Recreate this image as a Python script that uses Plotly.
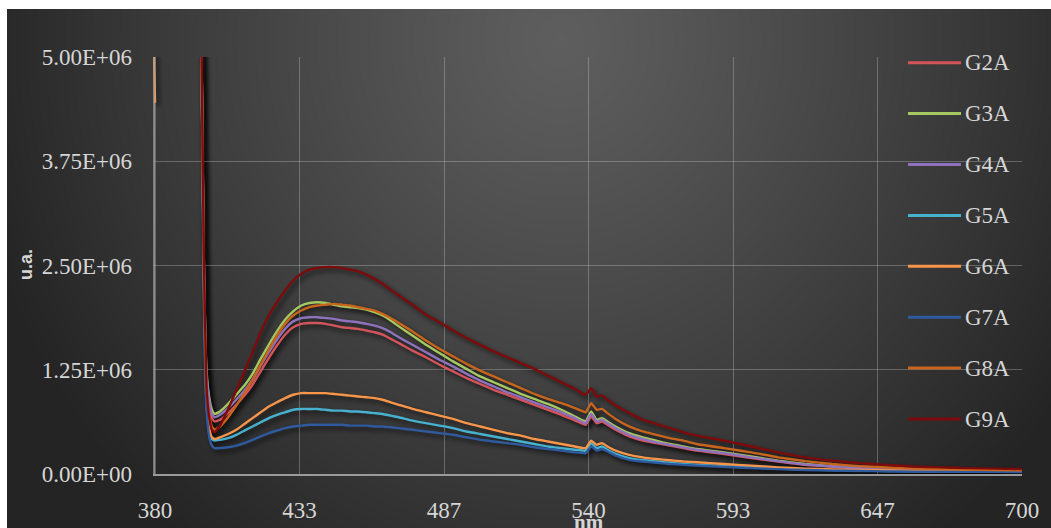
import numpy as np
import plotly.graph_objects as go

# Emission spectra, wavelength in nm
WAVELENGTH_NM = [
    380, 381, 390, 396, 397,
    398, 399, 400, 401, 402,
    404, 407, 410, 413, 416,
    419, 422, 425, 428, 431,
    434, 437, 440, 443, 446,
    449, 452, 455, 458, 461,
    464, 467, 470, 475, 480,
    485, 490, 495, 500, 505,
    510, 515, 520, 525, 530,
    535, 538, 539, 541, 543,
    545, 547, 550, 555, 560,
    565, 570, 575, 580, 590,
    600, 610, 620, 630, 640,
    650, 660, 670, 680, 690,
    700,
]

# Intensities in millions of arbitrary units (u.a.)
G2A = [
    9.0, 9.0, 9.0, 9.0, 5.6,
    2.6, 1.15, 0.83, 0.67, 0.63,
    0.65, 0.73, 0.83, 0.94, 1.07,
    1.23, 1.39, 1.54, 1.67, 1.76,
    1.80, 1.81, 1.81, 1.80, 1.78,
    1.76, 1.75, 1.74, 1.72, 1.70,
    1.67, 1.62, 1.57, 1.48, 1.40,
    1.31, 1.23, 1.15, 1.08, 1.01,
    0.95, 0.89, 0.83, 0.77, 0.71,
    0.64, 0.60, 0.59, 0.69, 0.61,
    0.63, 0.59, 0.53, 0.45, 0.40,
    0.37, 0.34, 0.31, 0.28, 0.24,
    0.19, 0.15, 0.11, 0.087, 0.07,
    0.058, 0.049, 0.043, 0.038, 0.035,
    0.033,
]
G3A = [
    9.0, 9.0, 9.0, 9.0, 5.6,
    2.6, 1.25, 0.92, 0.77, 0.72,
    0.75, 0.84, 0.95, 1.06, 1.20,
    1.38, 1.55, 1.71, 1.85, 1.95,
    2.02, 2.05, 2.06, 2.05, 2.03,
    2.01, 2.00, 1.99, 1.97, 1.94,
    1.90, 1.84, 1.77, 1.66, 1.55,
    1.45, 1.35, 1.26, 1.17, 1.10,
    1.03, 0.96, 0.90, 0.84, 0.77,
    0.69, 0.64, 0.63, 0.75, 0.65,
    0.67, 0.63, 0.57, 0.49, 0.44,
    0.40, 0.36, 0.33, 0.30, 0.26,
    0.21, 0.16, 0.12, 0.095, 0.075,
    0.062, 0.052, 0.045, 0.040, 0.037,
    0.035,
]
G4A = [
    9.0, 9.0, 9.0, 9.0, 5.6,
    2.6, 1.2, 0.88, 0.72, 0.68,
    0.71, 0.79, 0.89, 1.00, 1.13,
    1.30, 1.46, 1.61, 1.74, 1.83,
    1.87, 1.88, 1.88, 1.87, 1.86,
    1.84, 1.83, 1.82, 1.80, 1.78,
    1.75, 1.70, 1.64, 1.55, 1.46,
    1.37, 1.29, 1.20, 1.12, 1.05,
    0.98, 0.92, 0.86, 0.80, 0.74,
    0.67, 0.62, 0.61, 0.72, 0.63,
    0.65, 0.61, 0.55, 0.47, 0.42,
    0.38, 0.35, 0.32, 0.29, 0.25,
    0.20, 0.155, 0.115, 0.09, 0.072,
    0.060, 0.050, 0.044, 0.039, 0.036,
    0.034,
]
G5A = [
    9.0, 9.0, 9.0, 9.0, 5.6,
    2.3, 0.85, 0.52, 0.42, 0.40,
    0.41, 0.43, 0.47, 0.52, 0.57,
    0.62, 0.67, 0.71, 0.74, 0.77,
    0.78, 0.78, 0.78, 0.77, 0.76,
    0.76, 0.75, 0.75, 0.74, 0.73,
    0.72, 0.70, 0.68, 0.64, 0.61,
    0.58, 0.55, 0.51, 0.48, 0.45,
    0.42, 0.39, 0.36, 0.33, 0.31,
    0.29, 0.28, 0.28, 0.37, 0.31,
    0.33, 0.29, 0.24, 0.19, 0.165,
    0.15, 0.135, 0.12, 0.11, 0.095,
    0.08, 0.065, 0.055, 0.046, 0.04,
    0.036, 0.033, 0.031, 0.029, 0.028,
    0.027,
]
G6A = [
    4.45, 9.0, 9.0, 9.0, 5.6,
    2.4, 0.9, 0.55, 0.44, 0.42,
    0.44, 0.48, 0.53, 0.60, 0.67,
    0.74, 0.81, 0.86, 0.91, 0.95,
    0.97, 0.97, 0.97, 0.97, 0.96,
    0.95, 0.94, 0.93, 0.92, 0.91,
    0.89, 0.86, 0.83, 0.78, 0.74,
    0.70, 0.66, 0.61, 0.57, 0.53,
    0.49, 0.46, 0.42, 0.39, 0.36,
    0.33, 0.31, 0.31, 0.40, 0.35,
    0.37, 0.33, 0.28, 0.23, 0.20,
    0.18, 0.165, 0.15, 0.14, 0.12,
    0.10, 0.08, 0.065, 0.055, 0.048,
    0.042, 0.038, 0.035, 0.033, 0.031,
    0.030,
]
G7A = [
    9.0, 9.0, 9.0, 9.0, 5.6,
    2.2, 0.78, 0.45, 0.34, 0.31,
    0.31, 0.32, 0.34, 0.37, 0.41,
    0.45, 0.49, 0.52, 0.55, 0.57,
    0.58, 0.59, 0.59, 0.59, 0.59,
    0.59, 0.58, 0.58, 0.58, 0.57,
    0.57, 0.56, 0.55, 0.53, 0.51,
    0.49, 0.47, 0.44, 0.41, 0.39,
    0.37, 0.35, 0.32, 0.30, 0.28,
    0.26, 0.25, 0.25, 0.33, 0.28,
    0.30, 0.27, 0.22, 0.17, 0.15,
    0.135, 0.12, 0.11, 0.10, 0.085,
    0.07, 0.058, 0.048, 0.041, 0.036,
    0.032, 0.029, 0.027, 0.026, 0.025,
    0.024,
]
G8A = [
    9.0, 9.0, 9.0, 9.0, 5.6,
    2.5, 1.05, 0.72, 0.57, 0.53,
    0.57, 0.68, 0.82, 0.97, 1.13,
    1.31, 1.49, 1.66, 1.80, 1.90,
    1.96, 2.00, 2.02, 2.03, 2.04,
    2.03, 2.02, 2.00, 1.98, 1.96,
    1.92, 1.87, 1.81, 1.71, 1.60,
    1.50, 1.41, 1.32, 1.24, 1.17,
    1.10, 1.03, 0.96, 0.90, 0.85,
    0.79, 0.75, 0.74, 0.85, 0.77,
    0.78, 0.73, 0.66, 0.57, 0.51,
    0.47, 0.43, 0.40, 0.36, 0.31,
    0.26, 0.20, 0.155, 0.12, 0.095,
    0.078, 0.065, 0.058, 0.052, 0.048,
    0.045,
]
G9A = [
    9.0, 9.0, 9.0, 9.0, 5.7,
    2.7, 1.05, 0.68, 0.53, 0.50,
    0.58, 0.78, 1.00, 1.23, 1.46,
    1.70, 1.90, 2.06, 2.20, 2.32,
    2.40, 2.45, 2.47, 2.48, 2.48,
    2.47, 2.45, 2.43, 2.39, 2.34,
    2.28, 2.21, 2.14, 2.03, 1.91,
    1.82, 1.72, 1.63, 1.55, 1.47,
    1.40, 1.33, 1.26, 1.18, 1.10,
    1.02, 0.96, 0.95, 1.03, 0.93,
    0.94, 0.89, 0.82, 0.73, 0.65,
    0.60, 0.55, 0.50, 0.46, 0.40,
    0.33, 0.26, 0.20, 0.16, 0.13,
    0.11, 0.09, 0.08, 0.07, 0.065,
    0.06,
]

SERIES_NAMES = ["G2A", "G3A", "G4A", "G5A", "G6A", "G7A", "G8A", "G9A"]
SERIES_VALUES = [G2A, G3A, G4A, G5A, G6A, G7A, G8A, G9A]
SERIES_COLORS = ["#d4545b", "#a5c860", "#8f72bd", "#47b2cf",
                 "#f7964a", "#2f5a9e", "#c8641c", "#7e0b0b"]

Y_TICK_VALUES = [0, 1.25e6, 2.5e6, 3.75e6, 5e6]
Y_TICK_LABELS = ["0.00E+00", "1.25E+06", "2.50E+06", "3.75E+06", "5.00E+06"]
X_TICK_VALUES = [380, 433.333, 486.667, 540, 593.333, 646.667, 700]
X_TICK_LABELS = ["380", "433", "487", "540", "593", "647", "700"]

W, H = 1051, 528
X_RANGE = [380, 700]
Y_RANGE = [0, 5e6]

# plot area in pixels (x=380 sits at pixel 155)
PL, PR, PT, PB = 155, 1022, 57, 474
PAD_L = 2  # a little room left of 380 so the first sample isn't clipped


def px(x):
    return x / W


def py(y):
    return 1 - y / H


nm_per_px = (X_RANGE[1] - X_RANGE[0]) / (PR - PL)
val_per_px = (Y_RANGE[1] - Y_RANGE[0]) / (PB - PT)
x_dom = [px(PL - PAD_L), px(PR)]
y_dom = [py(PB), py(PT)]
x_view = [X_RANGE[0] - PAD_L * nm_per_px, X_RANGE[1]]

fig = go.Figure()

# dark radial-gradient chart background
gx = np.linspace(7, W, 90)
gy = np.linspace(9, H, 50)
GX, GY = np.meshgrid(gx, gy)
r = np.sqrt(((GX - 560) / 600) ** 2 + ((GY - 40) / 640) ** 2)
shade = np.clip(94 - 58 * r ** 1.15, 36, 255)
fig.add_trace(go.Heatmap(
    x=gx, y=gy, z=shade, zmin=0, zmax=255, zsmooth="best",
    colorscale=[[0, "rgb(0,0,0)"], [1, "rgb(255,255,255)"]],
    showscale=False, hoverinfo="skip", xaxis="x", yaxis="y",
))

# soft drop shadow under each spectrum (offset a few pixels down/right)
for vals in SERIES_VALUES:
    fig.add_trace(go.Scatter(
        x=WAVELENGTH_NM, y=np.array(vals) * 1e6, mode="lines",
        line=dict(color="rgba(0,0,0,0.35)", width=5, shape="spline", smoothing=0.4),
        hoverinfo="skip", showlegend=False, xaxis="x2", yaxis="y2",
    ))

for name, vals, color in zip(SERIES_NAMES, SERIES_VALUES, SERIES_COLORS):
    fig.add_trace(go.Scatter(
        x=WAVELENGTH_NM, y=np.array(vals) * 1e6, mode="lines", name=name,
        line=dict(color=color, width=2.4, shape="spline", smoothing=0.4),
        showlegend=False, xaxis="x3", yaxis="y3",
    ))

shift = 3
tick_font = dict(family="Liberation Serif, Times New Roman, serif", size=23, color="#d6d6d6")
grid_col = "rgba(205,205,205,0.33)"

fig.update_layout(
    template="none",
    width=W, height=H,
    margin=dict(l=0, r=0, t=0, b=0, pad=0, autoexpand=False),
    paper_bgcolor="white",
    plot_bgcolor="rgba(0,0,0,0)",
    showlegend=False,
    xaxis=dict(domain=[px(7), 1], range=[7, W], visible=False, fixedrange=True, automargin=False),
    yaxis=dict(domain=[0, py(9)], range=[H, 9], visible=False, fixedrange=True, automargin=False),
    xaxis2=dict(domain=x_dom, anchor="y2", visible=False, automargin=False,
                range=[x_view[0] - shift * nm_per_px, x_view[1] - shift * nm_per_px]),
    yaxis2=dict(domain=y_dom, anchor="x2", visible=False, automargin=False,
                range=[Y_RANGE[0] + shift * val_per_px, Y_RANGE[1] + shift * val_per_px]),
    xaxis3=dict(
        domain=x_dom, anchor="y3", range=x_view, automargin=False,
        tickvals=X_TICK_VALUES, ticktext=X_TICK_LABELS, tickfont=tick_font,
        ticks="", ticklabelstandoff=14,
        showgrid=True, gridcolor=grid_col, gridwidth=1,
        showline=True, linecolor="#9a9a9a", linewidth=2, zeroline=False,
    ),
    yaxis3=dict(
        domain=y_dom, anchor="x3", range=Y_RANGE, automargin=False,
        tickvals=Y_TICK_VALUES, ticktext=Y_TICK_LABELS, tickfont=tick_font,
        ticks="", ticklabelstandoff=20,
        showgrid=True, gridcolor=grid_col, gridwidth=1,
        showline=False, zeroline=False,
    ),
)

# left axis line, just left of the 380 nm samples so they stay visible
fig.add_shape(type="line", xref="x3", yref="y3", layer="above",
              x0=X_RANGE[0] - 0.9 * nm_per_px, x1=X_RANGE[0] - 0.9 * nm_per_px,
              y0=Y_RANGE[0], y1=Y_RANGE[1],
              line=dict(color="#a0a0a0", width=1.5))

# legend drawn at the right side of the plot area
leg_font = dict(family="Liberation Serif, Times New Roman, serif", size=23, color="#d6d6d6")
for i, (name, color) in enumerate(zip(SERIES_NAMES, SERIES_COLORS)):
    yc = 62.7 + i * 50.9
    fig.add_shape(type="line", xref="paper", yref="paper",
                  x0=px(908), x1=px(961), y0=py(yc), y1=py(yc),
                  line=dict(color=color, width=3))
    fig.add_annotation(text=name, xref="paper", yref="paper",
                       x=px(963), y=py(yc), xanchor="left", yanchor="middle",
                       showarrow=False, font=leg_font)

# axis titles
fig.add_annotation(text="<b>u.a.</b>", xref="paper", yref="paper",
                   x=px(26), y=py(265), textangle=-90, showarrow=False,
                   xanchor="center", yanchor="middle",
                   font=dict(family="Liberation Sans, Arial, sans-serif", size=18, color="#d6d6d6"))
fig.add_annotation(text="<b>nm</b>", xref="paper", yref="paper",
                   x=px(589), y=py(522), showarrow=False,
                   xanchor="center", yanchor="middle",
                   font=dict(family="Liberation Serif, Times New Roman, serif", size=21, color="#d6d6d6"))

# blur the shadow layer so it reads as a soft drop shadow
BLUR_JS = """
(function () {
  var root = document.getElementById('{plot_id}');
  var svg = root.querySelector('svg.main-svg');
  var ns = 'http://www.w3.org/2000/svg';
  var defs = svg.querySelector('defs') || svg.insertBefore(document.createElementNS(ns, 'defs'), svg.firstChild);
  var f = document.createElementNS(ns, 'filter');
  f.setAttribute('id', 'lineshadow');
  f.setAttribute('x', '-10%'); f.setAttribute('y', '-10%');
  f.setAttribute('width', '120%'); f.setAttribute('height', '120%');
  var b = document.createElementNS(ns, 'feGaussianBlur');
  b.setAttribute('stdDeviation', '2');
  f.appendChild(b);
  defs.appendChild(f);
  root.querySelectorAll('.subplot.x2y2 .scatterlayer').forEach(function (g) {
    g.setAttribute('filter', 'url(#lineshadow)');
  });
})();
"""

fig.write_html("out.html", config=dict(displayModeBar=False), post_script=BLUR_JS)
